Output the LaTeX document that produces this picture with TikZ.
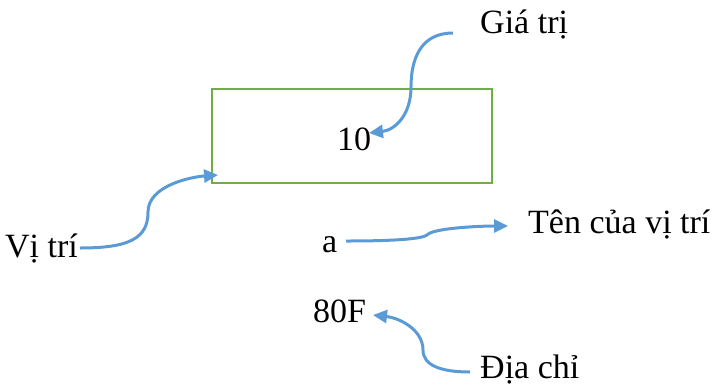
\documentclass[tikz,border=0pt]{standalone}
\usepackage{fontspec}
\setmainfont{Liberation Serif}
\usetikzlibrary{arrows.meta}
\definecolor{boxgreen}{HTML}{70AD47}
\definecolor{arrowblue}{HTML}{5B9BD5}
\begin{document}
\begin{tikzpicture}[x=1pt,y=-1pt,
  lbl/.style={anchor=base west,inner sep=0pt,font=\fontsize{34}{40}\selectfont},
  conn/.style={arrowblue,line width=3pt,-{Triangle[length=14pt,width=13pt]}},
  cell/.style={draw=boxgreen,line width=2.2pt}]
\useasboundingbox (0,0) rectangle (715,384);
\draw[cell] (212,89) rectangle (492,183);
\node[lbl] (val) at (337,150) {10};
\node[lbl] (gia) at (480,33) {Giá trị};
\node[lbl] (vitri) at (5,257) {Vị trí};
\node[lbl] (a) at (322,252) {a};
\node[lbl] (ten) at (528,233) {Tên của vị trí};
\node[lbl] (addr) at (313,322) {80F};
\node[lbl] (dia) at (480,378) {Địa chỉ};
\coordinate (gs) at (453,33);
\coordinate (gt) at (369,133);
\coordinate (vs) at (80,248);
\coordinate (vt) at (218,175);
\coordinate (as) at (346,241);
\coordinate (at) at (508,226);
\coordinate (ds) at (470,372);
\coordinate (dt) at (373,315);
\draw[conn] (gs) .. controls (420,33) and (411,60) .. (411,87) .. controls (411,115) and (395,130) .. (gt);
\draw[conn] (vs) .. controls (130,248) and (148,238) .. (148,212) .. controls (148,186) and (190,177) .. (vt);
\draw[conn] (as) .. controls (380,241) and (420,240) .. (427,235) .. controls (433,228) and (480,226) .. (at);
\draw[conn] (ds) .. controls (440,372) and (423,365) .. (423,350) .. controls (423,330) and (400,318) .. (dt);
\end{tikzpicture}
\end{document}
